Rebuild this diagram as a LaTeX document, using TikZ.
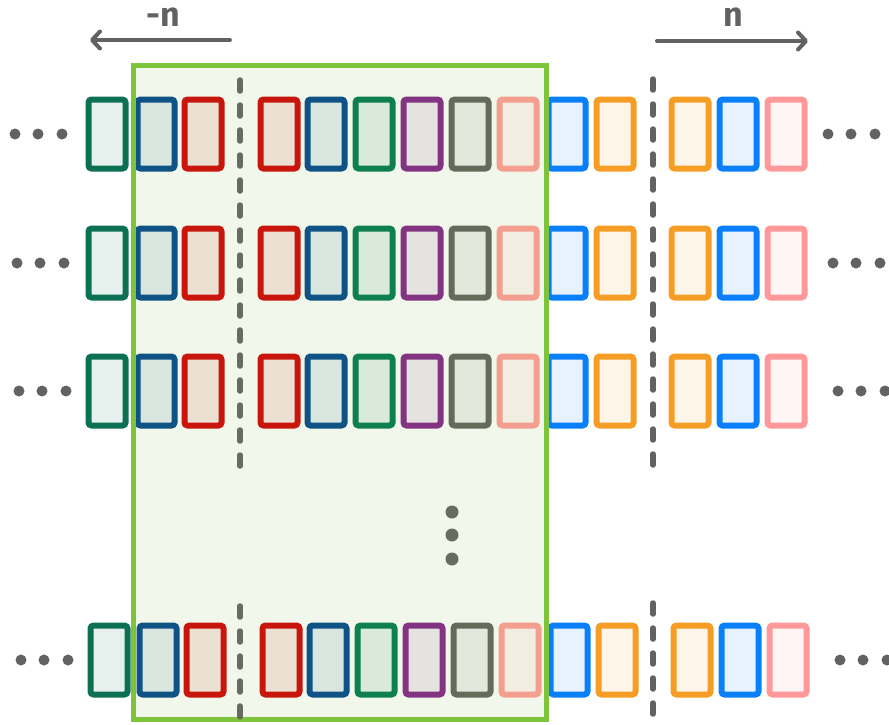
\documentclass[tikz,border=0pt]{standalone}
\usepackage{fontspec}
\setmainfont{Fira Sans}
\usetikzlibrary{arrows.meta,positioning}

\definecolor{cteal}{HTML}{0B7152}
\definecolor{cnavy}{HTML}{0F5386}
\definecolor{cred}{HTML}{C8160C}
\definecolor{cgreen}{HTML}{0E8050}
\definecolor{cpurple}{HTML}{823381}
\definecolor{cgray}{HTML}{656A5B}
\definecolor{csalmon}{HTML}{F49E8F}
\definecolor{cblue}{HTML}{0A7FFA}
\definecolor{corange}{HTML}{F59D25}
\definecolor{cpink}{HTML}{FF9999}
\definecolor{winline}{HTML}{7DC43A}
\definecolor{winfill}{HTML}{F1F7EA}
\definecolor{dashgray}{HTML}{676C5F}
\definecolor{arrowgray}{HTML}{626262}

\tikzset{
  cell/.style={rectangle, rounded corners=3pt, line width=6pt,
    minimum width=37pt, minimum height=69pt, inner sep=0pt,
    draw=#1, fill=#1, fill opacity=0.1, draw opacity=1},
  split/.style={line width=5.5pt, line cap=round, draw=#1,
    dash pattern=on 11pt off 14pt},
  shift arrow/.style={line width=4pt, line cap=round, draw=arrowgray,
    -{Straight Barb[length=8pt,width=17pt,line cap=round,line join=round]}},
  shift label/.style={text=arrowgray, font=\fontsize{34}{34}\selectfont\bfseries, inner sep=0pt}
}

\begin{document}
\begin{tikzpicture}[x=1pt,y=-1pt]
\useasboundingbox (0,0) rectangle (889,724);

% window
\fill [winfill] (133,65) rectangle (546,719);

% rows of cells
\foreach \r/\y/\dx/\ld/\rd in {a/134/0/15/828, b/263/0/17/833, c/391/0/19/838, d/660/2/21/840}{
  \foreach \c/\x/\col in {1/107/cteal, 2/156/cnavy, 3/203/cred, 4/279/cred, 5/326/cnavy,
      6/374/cgreen, 7/422/cpurple, 8/470/cgray, 9/518/csalmon, 10/567/cblue,
      11/615/corange, 12/690/corange, 13/738/cblue, 14/786/cpink}
    \node [cell=\col] (box-\r-\c) at (\x+\dx,\y) {};
  \foreach \k in {0,23,47}{
    \fill [arrowgray] (\ld+\k,\y) circle (5.5);
    \fill [arrowgray] (\rd+\k,\y) circle (5.5);
  }
}

\draw [winline, line width=5pt] (133,65) rectangle (546,719);

% split lines
\draw [split=dashgray] (240,80) -- (240,475);
\draw [split=dashgray] (240,606) -- (240,720);
\draw [split=arrowgray] (653,79) -- (653,472);
\draw [split=arrowgray] (653,603) -- (653,720);

% vertical dots
\foreach \v in {512,535,559}
  \fill [dashgray] (452,\v) circle (6.5);

% shifts
\coordinate (negtail) at (230,40);
\coordinate (neghead) at (90,40);
\coordinate (postail) at (657,41);
\coordinate (poshead) at (808,41);
\draw [shift arrow] (negtail) -- (neghead);
\draw [shift arrow] (postail) -- (poshead);
\node [shift label] (neglabel) at (163,17) {-n};
\node [shift label] (poslabel) at (733,17) {n};
\end{tikzpicture}
\end{document}
